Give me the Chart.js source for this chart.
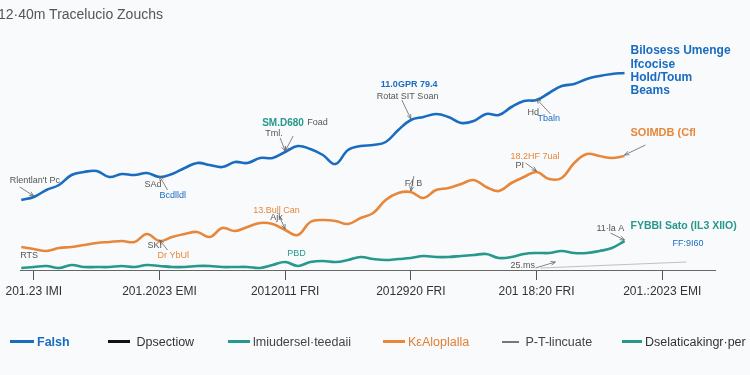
<!DOCTYPE html>
<html>
<head>
<meta charset="utf-8">
<script src="https://cdn.jsdelivr.net/npm/chart.js@4.4.0/dist/chart.umd.min.js"></script>
<style>
  body { margin: 0; background: #f8fafb; font-family: "Liberation Sans", Arial, sans-serif; }
  .wrap { position: relative; width: 750px; height: 375px; overflow: hidden; }
  canvas { position: absolute; left: 0; top: 0; }
  .title { position: absolute; left: -2px; top: 6px; font-size: 14px; color: #555; }
  .leg { position: absolute; top: 335px; font-size: 12.5px; white-space: nowrap; }
  .leg i { display: inline-block; width: 24px; height: 3px; vertical-align: middle; margin-right: 3px; position: relative; top: -1px; }
</style>
</head>
<body>
<div class="wrap">
  <canvas id="chart" width="750" height="375"></canvas>
  <div class="title">12·40m Tracelucio Zouchs</div>
  <div class="leg" style="left:10px;color:#1a6cc0;font-weight:bold"><i style="background:#1a6cc0"></i>Falsh</div>
  <div class="leg" style="left:108px;color:#333"><i style="background:#111;width:22px"></i> Dpsectiow</div>
  <div class="leg" style="left:228px;color:#444"><i style="background:#27988c;width:22px"></i>lmiudersel·teedaii</div>
  <div class="leg" style="left:383px;color:#e07f35"><i style="background:#e8873a;width:22px"></i>KεAloplalla</div>
  <div class="leg" style="left:502px;color:#444"><i style="background:#777;width:17px;height:2px"></i> P-T-lincuate</div>
  <div class="leg" style="left:622px;color:#333"><i style="background:#27988c;width:20px"></i>Dselaticakingr·per</div>
</div>
<script>
// x positions of the samples (one per step)
const steps = [-1, 0, 1, 2, 3, 4, 5, 6, 7, 8, 9, 10, 11, 12, 13, 14, 15, 16, 17, 18, 19, 20, 21, 22, 23,
  24, 25, 26, 27, 28, 29, 30, 31, 32, 33, 34, 35, 36, 37, 38, 39, 40, 41, 42, 43, 44, 45, 46, 47];

// tick labels under the axis
const tickLabels = ['201.23 IMI', '201.2023 EMI', '2012011 FRI', '2012920 FRI', '201 18:20 FRI', '201.:2023 EMI'];
const tickSteps = [0, 10, 20, 30, 40, 50];

// series values
const blueVals = [35, 36.5, 40, 42.5, 47.5, 49, 49.5, 46.5, 48, 47.5, 48.5, 46.5, 48, 51, 53.5, 52.5, 51.5,
  54, 53.5, 56, 56, 59, 62, 60.5, 57.5, 53, 60, 62, 62.5, 64, 70, 75, 76.5, 78, 76.5, 73.5, 74.5, 78, 77.5,
  81.5, 84.5, 85, 88.5, 92, 93, 95.5, 97, 98, 98.5];
const orangeVals = [11.5, 10.5, 9.5, 11, 11.5, 12.5, 13.5, 14, 14.5, 14, 18, 14.5, 16.5, 18, 19, 16.5, 21,
  19.5, 21.5, 23.5, 23, 20, 17.5, 24, 25, 24.5, 23, 26, 28.5, 35, 38.5, 39, 36, 40, 41, 43, 45, 41.5, 39.5,
  43.5, 46.5, 49, 45.5, 46, 53.5, 58, 57, 56, 57];
const tealVals = [1, 1.5, 2, 1, 2.5, 1.5, 1.5, 1.5, 2, 1.5, 2.5, 2, 1.5, 1.5, 2, 2, 1.5, 1.5, 1.5, 1, 2.5,
  4, 2, 4, 4.5, 4, 5, 6.5, 5.5, 5, 5.5, 6, 7, 6.5, 6.5, 7, 7.5, 8, 6, 6.5, 8, 8.5, 8.5, 9.5, 8.5, 8.5, 9.5,
  11, 14.5];

const blue = '#1a6cc0';
const orange = '#e8873a';
const teal = '#27988c';
const grey = '#555';

const small = '9px "Liberation Sans", Arial, sans-serif';
const smallB = 'bold 9px "Liberation Sans", Arial, sans-serif';
const mid = 'bold 10px "Liberation Sans", Arial, sans-serif';
const big = 'bold 12px "Liberation Sans", Arial, sans-serif';
const big2 = 'bold 11px "Liberation Sans", Arial, sans-serif';
const big3 = 'bold 10.5px "Liberation Sans", Arial, sans-serif';

// callouts, pinned to a series point (s = dataset, at = step)
const notes = [
  { s: 0, at: 0, arrow: [-14, -10], text: [["Rlentlan't Pc", -24, -16, grey, small]] },
  { s: 0, at: 10, arrow: [8, 13], text: [['SAd', -15, 8, grey, small], ['Bcdlldl', 0, 19, blue, small]] },
  { s: 0, at: 20, arrow: [-5, -14], arrow2: [8, -16],
    text: [['SM.D680', -23, -29, teal, mid], ['Foad', 22, -29, grey, small], ['Tml.', -20, -18, grey, small]] },
  { s: 0, at: 30, arrow: [-9, -20], text: [['11.0GPR 79.4', -30, -35, blue, smallB], ['Rotat SIT Soan', -34, -23, grey, small]] },
  { s: 0, at: 40, arrow: [14, 14], text: [['Hd', -9, 13, grey, small], ['Tbaln', 1, 19, blue, small]] },
  { s: 0, at: 47, text: [['Bilosess Umenge', 6, -22, blue, big], ['Ifcocise', 6, -8, blue, big],
    ['Hold/Toum', 6, 5, blue, big], ['Beams', 6, 18, blue, big]] },
  { s: 1, at: 47, arrow: [21, -11], text: [['SOIMDB (Cfl', 6, -23, orange, big2]] },
  { s: 1, at: 40, arrow: [-11, -9], text: [['18.2HF 7ual', -26, -15, orange, small], ['PI', -21, -6, grey, small]] },
  { s: 1, at: 30, arrow: [3, -16], text: [['F⁄i B', -6, -8, grey, small]] },
  { s: 1, at: 20, arrow: [-6, -14], text: [['13.Bull Can', -32, -19, orange, small], ['Ajk', -15, -12, grey, small]] },
  { s: 1, at: 10, arrow: [8, 9], text: [['SKI', -12, 5, grey, small], ['Dr YbUl', -2, 15, orange, small]] },
  { s: 1, at: -1, text: [['RTS', -1, 9, grey, small]] },
  { s: 2, at: 20, text: [['PBD', 2, -8, teal, small]] },
  { s: 2, at: 47, arrow: [-14, -8], text: [['11·la A', -28, -12, grey, small],
    ['FYBBI Sato (IL3 XIIO)', 6, -15, teal, big3], ['FF:9I60', 48, 3, blue, small]] },
  { s: 2, at: 38, arrow: [44, 5], arrowFrom: [24, 11], text: [['25.ms', -1, 9, grey, small]] }
];

// draw callout text and little arrows
const notesPlugin = {
  id: 'notes',
  afterDatasetsDraw(chart) {
    const ctx = chart.ctx;
    ctx.save();
    ctx.textBaseline = 'middle';
    notes.forEach(n => {
      const pt = chart.getDatasetMeta(n.s).data[steps.indexOf(n.at)];
      const x = pt.x, y = pt.y;
      ctx.strokeStyle = '#666';
      ctx.lineWidth = 0.8;
      const drawArrow = (sx, sy, ex, ey) => {
        ctx.beginPath();
        ctx.moveTo(sx, sy);
        ctx.lineTo(ex, ey);
        const a = Math.atan2(ey - sy, ex - sx);
        ctx.moveTo(ex, ey);
        ctx.lineTo(ex - 5 * Math.cos(a - 0.4), ey - 5 * Math.sin(a - 0.4));
        ctx.moveTo(ex, ey);
        ctx.lineTo(ex - 5 * Math.cos(a + 0.4), ey - 5 * Math.sin(a + 0.4));
        ctx.stroke();
      };
      if (n.arrowFrom) {
        drawArrow(x + n.arrowFrom[0], y + n.arrowFrom[1], x + n.arrow[0], y + n.arrow[1]);
      } else {
        if (n.arrow) drawArrow(x + n.arrow[0], y + n.arrow[1], x, y - 1);
        if (n.arrow2) drawArrow(x + n.arrow2[0], y + n.arrow2[1], x, y - 1);
      }
      n.text.forEach(t => {
        ctx.font = t[4];
        ctx.fillStyle = t[3];
        ctx.fillText(t[0], x + t[1], y + t[2]);
      });
    });
    // faint guide line near the axis
    const a = chart.getDatasetMeta(2).data[steps.indexOf(40)];
    ctx.strokeStyle = '#999';
    ctx.lineWidth = 0.6;
    ctx.beginPath();
    ctx.moveTo(a.x + 4, a.y + 15);
    ctx.lineTo(a.x + 150, a.y + 9);
    ctx.stroke();
    ctx.restore();
  }
};

const makeSet = (vals, color) => ({
  data: vals.map((v, i) => ({ x: steps[i], y: v })),
  borderColor: color,
  borderWidth: 2.6,
  pointRadius: 0,
  tension: 0.4,
  fill: false
});

new Chart(document.getElementById('chart'), {
  type: 'line',
  data: {
    datasets: [makeSet(blueVals, blue), makeSet(orangeVals, orange), makeSet(tealVals, teal)]
  },
  options: {
    responsive: false,
    animation: false,
    layout: { padding: { left: 20, right: 35, top: 50, bottom: 75 } },
    plugins: { legend: { display: false }, title: { display: false }, tooltip: { enabled: false } },
    scales: {
      x: {
        type: 'linear',
        min: -1.1,
        max: 54.2,
        afterFit: s => { s.height = 30; },
        afterBuildTicks: s => { s.ticks = tickSteps.map(v => ({ value: v })); },
        ticks: {
          callback: v => tickLabels[tickSteps.indexOf(v)],
          color: '#333',
          font: { size: 12, family: '"Liberation Sans", Arial, sans-serif' },
          padding: 4,
          maxRotation: 0,
          autoSkip: false
        },
        grid: { drawOnChartArea: false, drawTicks: true, tickLength: 10, color: '#555' },
        border: { display: true, color: '#666', width: 1 }
      },
      y: {
        display: false,
        min: 0,
        max: 110
      }
    }
  },
  plugins: [notesPlugin]
});
</script>
</body>
</html>
